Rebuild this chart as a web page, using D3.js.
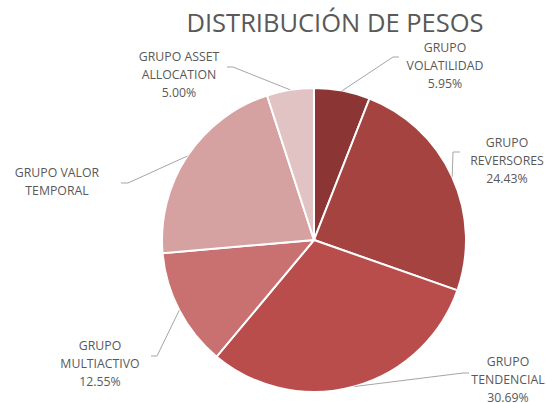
<!DOCTYPE html>
<html>
<head>
<meta charset="utf-8">
<script src="https://cdn.jsdelivr.net/npm/d3@7"></script>
<style>
  body { margin: 0; background: #fff; }
  svg { display: block; font-family: "Open Sans", "Noto Sans", sans-serif; }
</style>
</head>
<body>
<svg id="chart" width="546" height="403"></svg>
<script>
// slice data, clockwise from 12 o'clock
const groups = ["GRUPO VOLATILIDAD", "GRUPO REVERSORES", "GRUPO TENDENCIAL",
                "GRUPO MULTIACTIVO", "GRUPO VALOR TEMPORAL", "GRUPO ASSET ALLOCATION"]
const weights = [5.95, 24.43, 30.69, 12.55, 21.38, 5.00]
const showPct = [true, true, true, true, false, true]
const sliceColors = ["#8c3535", "#a54341", "#b94d4b", "#c87170", "#d6a1a1", "#e2c3c4"]

// label layout: text lines, text centre, elbow point of leader, end of leader
const labelLines = [
    ["GRUPO", "VOLATILIDAD"],
    ["GRUPO", "REVERSORES"],
    ["GRUPO", "TENDENCIAL"],
    ["GRUPO", "MULTIACTIVO"],
    ["GRUPO VALOR", "TEMPORAL"],
    ["GRUPO ASSET", "ALLOCATION"]
]
const labelPos = [[445, 52], [507, 147], [508, 366], [100, 350], [57, 177], [179, 61]]
const elbows = [[393, 57], [453, 152], [463, 373], [157, 356], [128, 183], [233, 67]]
const elbowEnds = [[399, 57], [460, 152], [469, 373], [151, 356], [121, 183], [227, 67]]

const width = 546
const height = 403
const cx = 314
const cy = 240
const radius = 152

const svg = d3.select('#chart')

svg.append('text')
    .attr('x', 335)
    .attr('y', 32)
    .attr('text-anchor', 'middle')
    .attr('font-size', '25.5px')
    .attr('fill', '#595959')
    .text('DISTRIBUCIÓN DE PESOS')

const data = groups.map((g, i) => ({ name: g, value: weights[i], i: i }))

const pie = d3.pie().sort(null).value(d => d.value)
const arcs = pie(data)

const arc = d3.arc().innerRadius(0).outerRadius(radius)

const g = svg.append('g').attr('transform', `translate(${cx},${cy})`)

g.selectAll('path')
    .data(arcs)
    .join('path')
    .attr('d', arc)
    .attr('fill', d => sliceColors[d.data.i])
    .attr('stroke', '#fff')
    .attr('stroke-width', 2)

// leader lines from slice edge midpoint
const leaders = svg.append('g')
arcs.forEach((a, i) => {
    const mid = (a.startAngle + a.endAngle) / 2
    const sx = cx + radius * Math.sin(mid)
    const sy = cy - radius * Math.cos(mid)
    leaders.append('polyline')
        .attr('points', [[sx, sy], elbows[i], elbowEnds[i]].map(p => p.join(',')).join(' '))
        .attr('fill', 'none')
        .attr('stroke', '#a6a6a6')
        .attr('stroke-width', 1)
})

// labels
const lineH = 18
arcs.forEach((a, i) => {
    const lines = labelLines[i].slice()
    if (showPct[i]) lines.push(a.data.value.toFixed(2) + '%')
    const t = svg.append('text')
        .attr('text-anchor', 'middle')
        .attr('font-size', '12.3px')
        .attr('fill', '#595959')
    lines.forEach((ln, k) => {
        t.append('tspan')
            .attr('x', labelPos[i][0])
            .attr('y', labelPos[i][1] + k * lineH)
            .text(ln)
    })
})
</script>
</body>
</html>
